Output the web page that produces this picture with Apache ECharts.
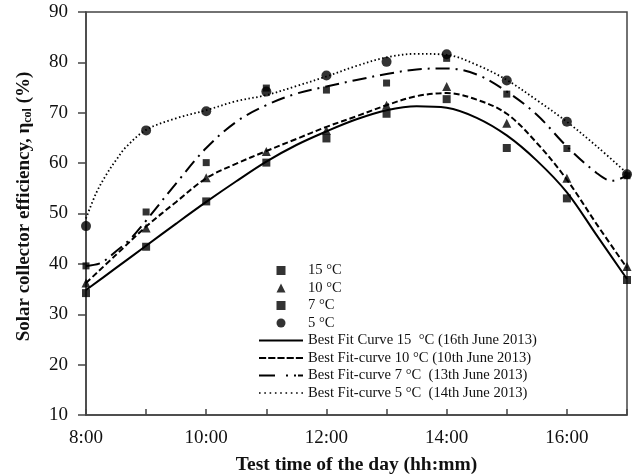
<!DOCTYPE html>
<html>
<head>
<meta charset="utf-8">
<script src="https://cdn.jsdelivr.net/npm/echarts@6/dist/echarts.min.js"></script>
<style>
  html, body { margin: 0; padding: 0; background: #fff; }
  #chart { width: 633px; height: 475px; }
</style>
</head>
<body>
<div id="chart"></div>
<script>
// Measured points (hour of day, efficiency %)
const hours = [8, 9, 10, 11, 12, 13, 14, 15, 16, 17];
const eff15 = [34.2, 43.4, 52.4, 60.1, 64.9, 69.8, 72.7, 63.0, 53.0, 36.8];
const eff10 = [36.2, 47.1, 57.1, 62.3, 66.5, 71.5, 75.2, 67.9, 57.0, 39.5];
const eff7  = [39.6, 50.3, 60.1, 74.9, 74.5, 75.9, 80.8, 73.7, 62.9, 57.5];
const eff5  = [47.5, 66.5, 70.3, 74.2, 77.4, 80.1, 81.6, 76.4, 68.2, 57.8];

// Best-fit curves
const fitHours15 = [8, 8.5, 9, 9.5, 10, 10.5, 11, 11.5, 12, 12.5, 13, 13.5, 14, 14.5, 15, 15.5, 16, 16.5, 17];
const fit15 = [34.8, 39.2, 43.6, 48.0, 52.3, 56.4, 60.3, 63.6, 66.3, 68.7, 70.5, 71.3, 71.0, 69.0, 65.5, 60.5, 54.2, 45.6, 37.0];
const fitHours10 = [8, 8.5, 9, 9.5, 10, 10.5, 11, 11.5, 12, 12.5, 13, 13.5, 14, 14.5, 15, 15.5, 16, 16.5, 17];
const fit10 = [36.2, 41.8, 47.4, 52.3, 57.0, 59.9, 62.4, 64.8, 67.2, 69.3, 71.5, 73.3, 73.9, 72.6, 69.8, 64.0, 56.7, 47.8, 39.2];
const fitHours7 = [8, 8.25, 8.5, 8.75, 9, 9.5, 10, 10.5, 11, 11.5, 12, 12.5, 13, 13.5, 14, 14.5, 15, 15.5, 16, 16.5, 16.75, 17];
const fit7 = [39.6, 40.2, 42.5, 45.1, 48.6, 56.0, 63.0, 68.2, 71.5, 73.8, 75.2, 76.5, 77.7, 78.6, 78.8, 77.6, 74.2, 69.6, 63.3, 58.0, 56.5, 57.5];
const fitHours5 = [8, 8.167, 8.333, 8.5, 8.667, 9, 9.5, 10, 10.5, 11, 11.5, 12, 12.5, 13, 13.5, 14, 14.5, 15, 15.5, 16, 16.5, 17];
const fit5 = [49.0, 54.0, 57.6, 60.6, 63.2, 66.6, 68.9, 70.5, 72.3, 73.5, 75.3, 77.2, 79.3, 81.0, 81.7, 81.5, 79.5, 76.5, 72.5, 68.2, 63.3, 58.0];

const yTicks = { min: 10, max: 90, interval: 10 };
const xTicks = { min: 8, max: 17, interval: 1 };

const names = {
  m15: '15 °C', m10: '10 °C', m7: '7 °C', m5: '5 °C',
  f15: 'Best Fit Curve 15  °C (16th June 2013)',
  f10: 'Best Fit-curve 10 °C (10th June 2013)',
  f7: 'Best Fit-curve 7 °C  (13th June 2013)',
  f5: 'Best Fit-curve 5 °C  (14th June 2013)'
};

function pairs(xs, ys) { return xs.map((x, i) => [x, ys[i]]); }

const FONT = 'Liberation Serif';
const INK = '#111';

// legend glyphs
const ICON_SQUARE = 'path://M0,0L10,0L10,10L0,10Z';
const ICON_TRI = 'path://M5,0L10,10L0,10Z';
const ICON_CIRCLE = 'path://M5,0A5,5,0,1,1,5,10A5,5,0,1,1,5,0Z';
function rects(list, h) {
  return 'path://' + list.map(([a, b]) => `M${a},0L${b},0L${b},${h}L${a},${h}Z`).join('');
}
const ICON_SOLID = rects([[0, 44]], 2);
const ICON_DASH = rects([[0, 7], [9, 16], [18, 25], [27, 34], [36, 43]], 2);
const ICON_DASHDOT = rects([[0, 16], [27, 29], [35, 37], [39, 44]], 2);
const ICON_DOT = rects([[0, 1.5], [5, 6.5], [10, 11.5], [15, 16.5], [20, 21.5], [25, 26.5], [30, 31.5], [35, 36.5], [40, 41.5]], 1.5);

const chart = echarts.init(document.getElementById('chart'), null, { renderer: 'canvas' });

function fitSeries(name, xs, ys, lineStyle) {
  return {
    name, type: 'line', data: pairs(xs, ys), smooth: 0.35, symbol: 'none', showSymbol: false,
    lineStyle: Object.assign({ color: '#000', width: 2 }, lineStyle),
    itemStyle: { color: '#000' }, z: 2, silent: true
  };
}
function markSeries(name, ys, symbol, size) {
  return {
    name, type: 'scatter', data: pairs(hours, ys), symbol, symbolSize: size,
    itemStyle: { color: '#000' }, z: 3, silent: true
  };
}

chart.setOption({
  animation: false,
  backgroundColor: '#fff',
  grid: {
    left: 86, right: 6, top: 12, bottom: 60, outerBoundsMode: 'none', containLabel: false,
    show: true, borderColor: '#444', borderWidth: 1.5, backgroundColor: 'transparent'
  },
  xAxis: {
    type: 'value', min: xTicks.min, max: xTicks.max, interval: xTicks.interval,
    name: 'Test time of the day (hh:mm)', nameLocation: 'middle', nameGap: 40,
    nameTextStyle: { fontFamily: FONT, fontWeight: 'bold', fontSize: 19.5, color: INK },
    axisLine: { show: true, lineStyle: { color: '#444', width: 1.5 } },
    axisTick: { show: true, inside: true, length: 6, lineStyle: { color: '#444', width: 1.5 } },
    splitLine: { show: false },
    axisLabel: {
      margin: 14, fontFamily: FONT, fontSize: 19, color: INK,
      formatter: v => (v % 2 === 0 ? v + ':00' : '')
    }
  },
  yAxis: {
    type: 'value', min: yTicks.min, max: yTicks.max, interval: yTicks.interval,
    name: '{b|Solar collector efficiency, η}{s|col}{b| (%)}',
    nameLocation: 'middle', nameGap: 52, nameRotate: 90,
    nameTextStyle: {
      fontFamily: FONT, fontWeight: 'bold', fontSize: 19, color: INK,
      padding: [0, 0, 0, 14],
      rich: {
        b: { fontFamily: FONT, fontWeight: 'bold', fontSize: 19, color: INK, lineHeight: 20 },
        s: { fontFamily: FONT, fontWeight: 'bold', fontSize: 12, color: INK, lineHeight: 12, verticalAlign: 'bottom' }
      }
    },
    axisLine: { show: true, lineStyle: { color: '#444', width: 1.5 } },
    axisTick: { show: true, inside: false, length: 8, lineStyle: { color: '#444', width: 1.5 } },
    splitLine: { show: false },
    axisLabel: { margin: 18, fontFamily: FONT, fontSize: 19, color: INK }
  },
  legend: {
    orient: 'vertical', left: 259, top: 263, padding: 0,
    itemWidth: 44, itemHeight: 9, itemGap: 2.5, itemTextGap: 5,
    symbolKeepAspect: true,
    selectedMode: false,
    textStyle: { fontFamily: FONT, fontSize: 14.6, color: INK, lineHeight: 15 },
    data: [
      { name: names.m15, icon: ICON_SQUARE },
      { name: names.m10, icon: ICON_TRI },
      { name: names.m7, icon: ICON_SQUARE },
      { name: names.m5, icon: ICON_CIRCLE },
      { name: names.f15, icon: ICON_SOLID },
      { name: names.f10, icon: ICON_DASH },
      { name: names.f7, icon: ICON_DASHDOT },
      { name: names.f5, icon: ICON_DOT }
    ]
  },
  series: [
    fitSeries(names.f15, fitHours15, fit15, { type: 'solid' }),
    fitSeries(names.f10, fitHours10, fit10, { type: [6, 3] }),
    fitSeries(names.f7, fitHours7, fit7, { type: [14, 6, 2, 6] }),
    fitSeries(names.f5, fitHours5, fit5, { type: [1.5, 2.5], width: 1.8 }),
    markSeries(names.m15, eff15, 'rect', 8),
    markSeries(names.m10, eff10, 'triangle', 9),
    markSeries(names.m7, eff7, 'rect', 7),
    markSeries(names.m5, eff5, 'circle', 10)
  ]
});
</script>
</body>
</html>
